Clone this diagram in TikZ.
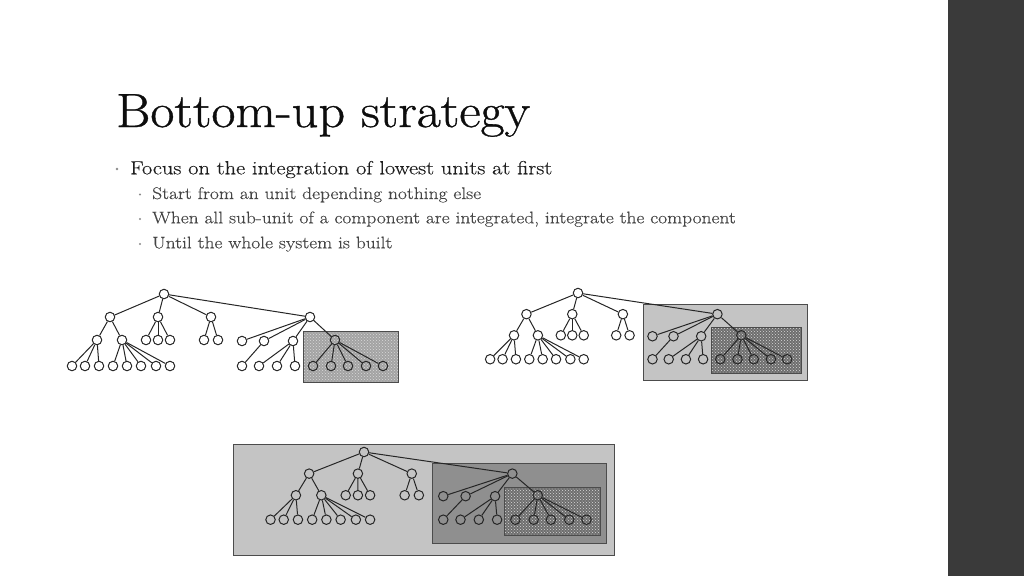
\documentclass[tikz,border=0pt]{standalone}
\usepackage{fontspec}
\newfontfamily\titlefont{Latin Modern Roman}[FakeStretch=1.09,FakeBold=0.8]
\newfontfamily\onefont{Latin Modern Roman}[FakeStretch=1.18,FakeBold=0.4]
\newfontfamily\twofont{Latin Modern Roman}[FakeStretch=1.16,FakeBold=0.3]
\usetikzlibrary{patterns}
\definecolor{barcol}{HTML}{3A3A3A}
\definecolor{txtone}{HTML}{1E1E1E}
\definecolor{txttwo}{HTML}{454545}
\definecolor{bulcol}{HTML}{8A8A8A}
\definecolor{lightbox}{HTML}{C4C4C4}
\definecolor{midbox}{HTML}{8F8F8F}
\definecolor{texlight}{HTML}{A3A3A3}
\definecolor{texdark}{HTML}{6E6E6E}
\newcommand\bttree[1]{%
  \node[tn] (#1r) at (0,0) {};
  \node[tn] (#1a) at (-54,23) {};
  \node[tn] (#1b) at (-6,23) {};
  \node[tn] (#1c) at (47,23) {};
  \node[tn] (#1d) at (146,23) {};
  \node[tn] (#1a1) at (-67,46) {};
  \node[tn] (#1a2) at (-42,46) {};
  \node[tn] (#1b1) at (-18,46) {};
  \node[tn] (#1b2) at (-6,46) {};
  \node[tn] (#1b3) at (6,46) {};
  \node[tn] (#1c1) at (40,46) {};
  \node[tn] (#1c2) at (54,46) {};
  \node[tn] (#1d1) at (78,47) {};
  \node[tn] (#1d2) at (100,47) {};
  \node[tn] (#1d3) at (129,47) {};
  \node[tn] (#1d4) at (171,46) {};
  \foreach \n/\x in {1/-92,2/-79,3/-65,4/-51,5/-37,6/-23,7/-8,8/6,9/78,10/95,11/113,12/131,13/149,14/167,15/184,16/202,17/219}
    \node[tn] (#1l\n) at (\x,72) {};
  \foreach \p/\c in {r/a,r/b,r/c,r/d,a/a1,a/a2,b/b1,b/b2,b/b3,c/c1,c/c2,d/d1,d/d2,d/d3,d/d4,a1/l1,a1/l2,a1/l3,a2/l4,a2/l5,a2/l6,a2/l7,a2/l8,d2/l9,d3/l10,d3/l11,d3/l12,d4/l13,d4/l14,d4/l15,d4/l16,d4/l17}
    \draw[te] (#1\p) -- (#1\c);
}
\begin{document}
\begin{tikzpicture}[x=1pt,y=-1pt,
  tn/.style={circle,draw=black!85,line width=1pt,minimum size=9.5pt,inner sep=0pt},
  te/.style={draw=black!85,line width=1pt},
  boxline/.style={draw=black!70,line width=0.9pt},
  texbox/.style={pattern=crosshatch dots,pattern color=white!70!gray}]
\useasboundingbox (0,0) rectangle (1024,576);
\fill[barcol] (948,0) rectangle (1024,576);
% text
\node[anchor=base west,inner sep=0pt,font=\titlefont\fontsize{48}{50}\selectfont,text=black!95] (title) at (116,127) {Bottom-up strategy};
\node[anchor=base west,inner sep=0pt,font=\onefont\fontsize{19}{21}\selectfont,text=txtone] (lone) at (130,174.3) {Focus on the integration of lowest units at first};
\node[anchor=base west,inner sep=0pt,font=\twofont\fontsize{16.8}{19}\selectfont,text=txttwo] (ltwoa) at (152,199) {Start from an unit depending nothing else};
\node[anchor=base west,inner sep=0pt,font=\twofont\fontsize{16.8}{19}\selectfont,text=txttwo] (ltwob) at (152,223.3) {When all sub-unit of a component are integrated, integrate the component};
\node[anchor=base west,inner sep=0pt,font=\twofont\fontsize{16.8}{19}\selectfont,text=txttwo] (ltwoc) at (152,248.3) {Until the whole system is built};
\node[circle,fill=bulcol,inner sep=0pt,minimum size=2.6pt] (bone) at (117,169) {};
\node[circle,fill=bulcol,inner sep=0pt,minimum size=2.3pt] (btwoa) at (140,194.5) {};
\node[circle,fill=bulcol,inner sep=0pt,minimum size=2.3pt] (btwob) at (140,219) {};
\node[circle,fill=bulcol,inner sep=0pt,minimum size=2.3pt] (btwoc) at (140,244) {};
% boxes
\fill[texlight] (303,331) rectangle (398,382);
\fill[texbox] (303,331) rectangle (398,382);
\draw[boxline] (303,331) rectangle (398,382);
\filldraw[boxline,fill=lightbox] (643,304) rectangle (807,380);
\fill[texdark] (711,327) rectangle (801,373);
\fill[texbox] (711,327) rectangle (801,373);
\draw[boxline] (711,327) rectangle (801,373);
\filldraw[boxline,fill=lightbox] (233,444) rectangle (614,555);
\filldraw[boxline,fill=midbox] (432,463) rectangle (606,543);
\fill[texdark] (504,487) rectangle (600,535);
\fill[texbox] (504,487) rectangle (600,535);
\draw[boxline] (504,487) rectangle (600,535);
% trees
\begin{scope}[shift={(164,294)}]
  \bttree{ta}
\end{scope}
\begin{scope}[shift={(578,293)},xscale=0.955,yscale=0.92]
  \bttree{tb}
\end{scope}
\begin{scope}[shift={(364,452)},xscale=1.016,yscale=0.94]
  \bttree{tc}
\end{scope}
\end{tikzpicture}
\end{document}
